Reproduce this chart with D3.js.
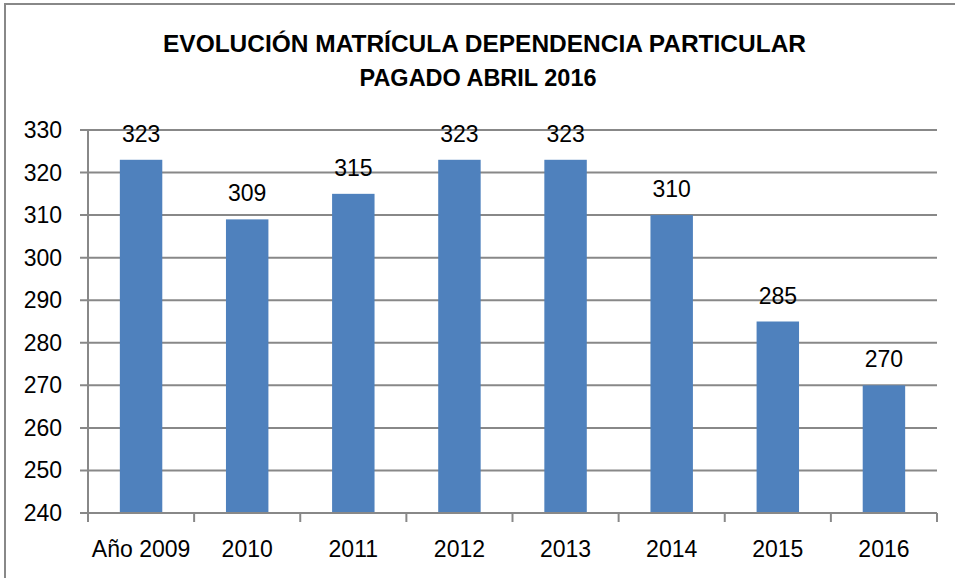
<!DOCTYPE html>
<html>
<head>
<meta charset="utf-8">
<script src="https://cdn.jsdelivr.net/npm/d3@7"></script>
<style>
  body { margin: 0; background: #fff; }
  text { font-family: "Liberation Sans", Arial, sans-serif; fill: #000; }
</style>
</head>
<body>
<div id="chart"></div>
<script>
'use strict'
const years = ["Año 2009", "2010", "2011", "2012", "2013", "2014", "2015", "2016"]
const enrollment = [323, 309, 315, 323, 323, 310, 285, 270]
const yTicks = [240, 250, 260, 270, 280, 290, 300, 310, 320, 330]
const titleLines = ["EVOLUCIÓN MATRÍCULA DEPENDENCIA PARTICULAR", "PAGADO ABRIL 2016"]

const width = 955, height = 578
const plot = {left: 88, right: 937, top: 130, bottom: 513}

const svg = d3.select("#chart")
  .append("svg")
    .attr("width", width)
    .attr("height", height)

// outer frame (only top and left edges are visible in the original crop)
svg.append("path")
  .attr("d", `M5,${height} L5,4 L${width},4`)
  .attr("fill", "none")
  .attr("stroke", "#888")
  .attr("stroke-width", 2)

// title
const titleWidths = [643, 237]
svg.selectAll("text.title")
  .data(titleLines)
  .enter()
    .append("text")
    .attr("class", "title")
    .attr("x", (d, i) => i === 0 ? 484.5 : 478)
    .attr("y", (d, i) => 52 + i * 34)
    .attr("text-anchor", "middle")
    .attr("font-weight", "bold")
    .attr("font-size", 24.5)
    .attr("textLength", (d, i) => titleWidths[i])
    .attr("lengthAdjust", "spacingAndGlyphs")
    .text(d => d)

const x = d3.scaleBand()
  .domain(years)
  .range([plot.left, plot.right])
  .paddingInner(0.6)
  .paddingOuter(0.3)

const xOuter = d3.scaleBand()
  .domain(years)
  .range([plot.left, plot.right])

const y = d3.scaleLinear()
  .domain([240, 330])
  .range([plot.bottom, plot.top])

// gridlines
svg.selectAll("line.grid")
  .data(yTicks)
  .enter()
    .append("line")
    .attr("x1", plot.left - 8)
    .attr("x2", plot.right)
    .attr("y1", d => y(d))
    .attr("y2", d => y(d))
    .attr("stroke", "#888")
    .attr("stroke-width", 2)

// y axis line
svg.append("line")
  .attr("x1", plot.left).attr("x2", plot.left)
  .attr("y1", plot.top).attr("y2", plot.bottom)
  .attr("stroke", "#888")
  .attr("stroke-width", 2)

// y tick labels
svg.selectAll("text.ylab")
  .data(yTicks)
  .enter()
    .append("text")
    .attr("class", "ylab")
    .attr("x", 62)
    .attr("y", d => y(d) + 8)
    .attr("text-anchor", "end")
    .attr("font-size", 23)
    .text(d => d)

// x tick marks at category boundaries
const bounds = years.map(d => xOuter(d)).concat([plot.right])
svg.selectAll("line.xtick")
  .data(bounds)
  .enter()
    .append("line")
    .attr("x1", d => d).attr("x2", d => d)
    .attr("y1", plot.bottom).attr("y2", plot.bottom + 9)
    .attr("stroke", "#888")
    .attr("stroke-width", 2)

// bars
svg.selectAll("rect.bar")
  .data(enrollment)
  .enter()
    .append("rect")
    .attr("class", "bar")
    .attr("x", (d, i) => x(years[i]))
    .attr("y", d => y(d))
    .attr("width", x.bandwidth())
    .attr("height", d => y(240) - y(d))
    .attr("fill", "#4F81BD")

// bottom axis line drawn over bars
svg.append("line")
  .attr("x1", plot.left).attr("x2", plot.right)
  .attr("y1", plot.bottom).attr("y2", plot.bottom)
  .attr("stroke", "#888")
  .attr("stroke-width", 2)

// value labels
svg.selectAll("text.val")
  .data(enrollment)
  .enter()
    .append("text")
    .attr("class", "val")
    .attr("x", (d, i) => x(years[i]) + x.bandwidth() / 2)
    .attr("y", d => y(d) - 18)
    .attr("text-anchor", "middle")
    .attr("font-size", 23)
    .text(d => d)

// x labels
svg.selectAll("text.xlab")
  .data(years)
  .enter()
    .append("text")
    .attr("class", "xlab")
    .attr("x", d => xOuter(d) + xOuter.bandwidth() / 2)
    .attr("y", 557)
    .attr("text-anchor", "middle")
    .attr("font-size", 23)
    .text(d => d)
</script>
</body>
</html>
